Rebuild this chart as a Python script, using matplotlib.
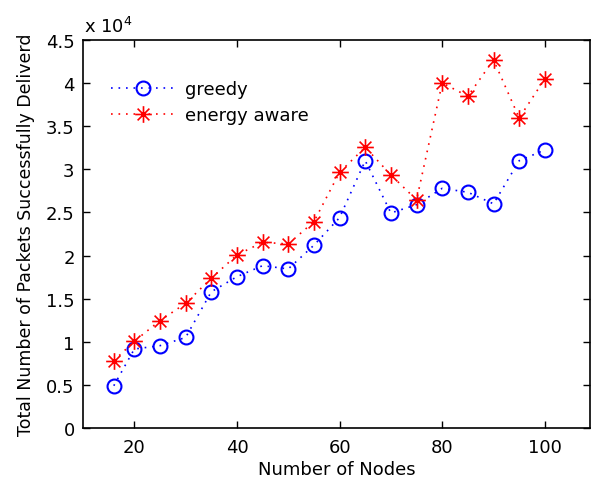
import matplotlib
matplotlib.use("Agg")
import matplotlib.pyplot as plt
from matplotlib.path import Path
import numpy as np

nodes = [16, 20, 25, 30, 35, 40, 45, 50, 55, 60, 65, 70, 75, 80, 85, 90, 95, 100]
greedy = [4900, 9160, 9550, 10500, 15800, 17550, 18830, 18450, 21200, 24400,
          31000, 24940, 25900, 27800, 27340, 26000, 31000, 32250]
energy_aware = [7800, 10060, 12450, 14460, 17370, 20070, 21540, 21340, 23930, 29660,
                32560, 29350, 26450, 40020, 38480, 42700, 35960, 40490]
xticks = [20, 40, 60, 80, 100]
yticks = [0, 0.5, 1, 1.5, 2, 2.5, 3, 3.5, 4, 4.5]
ytick_labels = ["0", "0.5", "1", "1.5", "2", "2.5", "3", "3.5", "4", "4.5"]

plt.rcParams['font.family'] = ['DejaVu Sans']
FS = 13

# MATLAB-style asterisk marker: plus overlaid with an x
d = 0.7071
asterisk = Path([(-1, 0), (1, 0), (0, -1), (0, 1),
                 (-d, -d), (d, d), (-d, d), (d, -d)],
                [Path.MOVETO, Path.LINETO] * 4)

fig = plt.figure(figsize=(5.91, 4.81), dpi=100)
ax = fig.add_axes([83/591, 52/481, 507/591, 388/481])

scale = 1e4
dots = (0, (1, 3.5))
ax.plot(nodes, np.array(greedy)/scale, linestyle=dots, color='blue', marker='o',
        markersize=10, markerfacecolor='none', markeredgewidth=1.5, linewidth=1.2,
        label='greedy')
ax.plot(nodes, np.array(energy_aware)/scale, linestyle=dots, color='red', marker=asterisk,
        markersize=12, markeredgewidth=1.2, linewidth=1.2, label='energy aware')

ax.set_xlim(10, 108.8)
ax.set_ylim(0, 4.5)
ax.set_xticks(xticks)
ax.set_yticks(yticks)
ax.set_yticklabels(ytick_labels)
ax.tick_params(direction='in', top=True, right=True, labelsize=FS, length=5, width=1)
ax.tick_params(axis='x', pad=7)
ax.tick_params(axis='y', pad=6)
for s in ax.spines.values():
    s.set_linewidth(1.2)

ax.set_xlabel('Number of Nodes', fontsize=FS, labelpad=3)
ax.set_ylabel('Total Number of Packets Successfully Deliverd', fontsize=12.5, labelpad=8)

fig.text(84/591, 1 - 27/481, r'x 10$^4$', fontsize=FS, va='center', ha='left')

leg = ax.legend(loc='upper left', bbox_to_anchor=(0.04, 0.915), frameon=False,
                fontsize=FS, handlelength=3.6, handletextpad=0.5, labelspacing=0.45,
                borderaxespad=0)

fig.savefig('out.png', dpi=100)
